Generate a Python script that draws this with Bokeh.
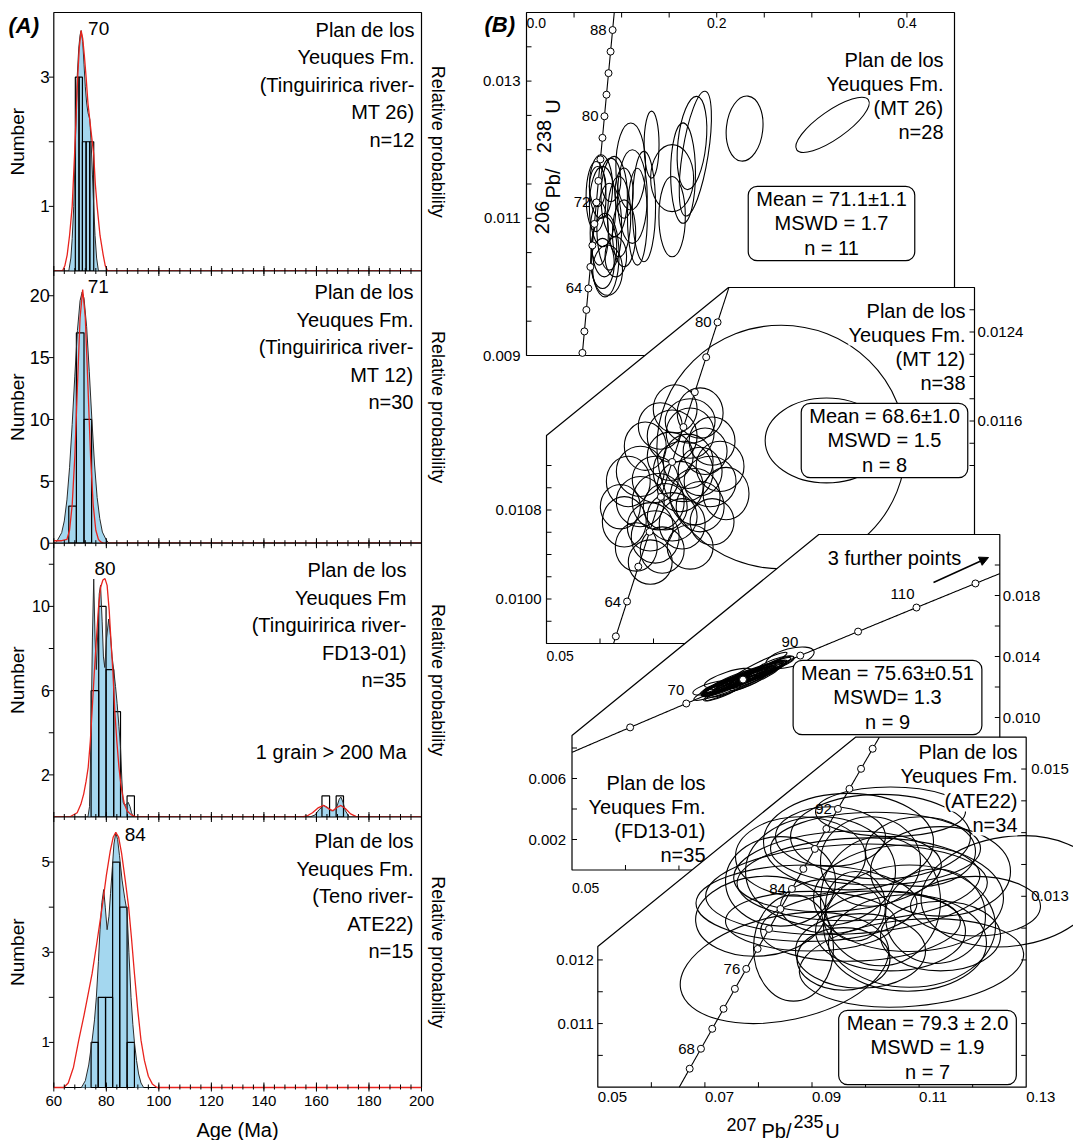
import math
import numpy as np
from bokeh.plotting import figure
from bokeh.models import Range1d, Arrow, NormalHead
from bokeh.core.properties import value
from bokeh.embed import file_html
from bokeh.resources import INLINE

FONT = "Liberation Sans"
BLUE = "#a4d7ef"
RED = "#e8231d"
PDP_LINE = "#2b2b2b"

# ---------------------------------------------------------------- (A) age histograms
AGE_MAJOR = [60, 80, 100, 120, 140, 160, 180, 200]
AGE_MINOR = list(range(64, 200, 4))

# MT 26
mt26_bin_left = [68.2, 69.6, 70.9, 72.3, 73.7]
mt26_bin_right = [69.6, 70.9, 72.3, 73.7, 75.2]
mt26_counts = [3, 3, 2, 2, 2]
mt26_pdp_age = [65.7, 66.5, 67.0, 67.6, 68.1, 68.9, 69.5, 70.0, 70.4, 71.0, 71.5, 72.0,
                72.5, 73.0, 73.7, 74.2, 74.7, 75.2, 75.7, 76.3, 77.0]
mt26_pdp_val = [0.0, 0.2, 0.5, 1.0, 1.8, 3.0, 3.45, 3.65, 3.72, 3.55, 3.2, 2.85,
                2.6, 2.45, 2.35, 2.0, 1.5, 1.0, 0.55, 0.2, 0.0]
mt26_kde_age = [60.0, 63.3, 64.2, 65.1, 66.0, 67.0, 67.9, 68.5, 69.1, 69.7, 70.4, 71.0,
                71.6, 72.3, 73.0, 73.8, 74.5, 75.2, 75.8, 76.5, 77.6, 78.8, 79.6, 80.5, 200.0]
mt26_kde_val = [0.0, 0.0, 0.08, 0.25, 0.55, 1.0, 1.8, 2.4, 3.0, 3.45, 3.72, 3.6,
                3.35, 3.0, 2.6, 2.3, 2.05, 1.8, 1.35, 1.0, 0.55, 0.25, 0.08, 0.0, 0.0]

# MT 12
mt12_bin_left = [65.7, 68.6, 71.5]
mt12_bin_right = [68.6, 71.5, 74.4]
mt12_counts = [3, 17, 10]
mt12_pdp_age = [61.0, 63.0, 64.0, 65.0, 66.0, 67.0, 68.0, 69.0, 70.0, 70.8, 71.5, 72.5,
                73.5, 74.5, 75.5, 76.5, 77.5, 78.5, 80.0, 81.0]
mt12_pdp_val = [0.1, 0.85, 1.8, 3.5, 6.1, 9.6, 13.5, 17.2, 19.6, 20.3, 19.8, 17.5,
                13.9, 10.0, 6.4, 3.7, 2.0, 0.9, 0.25, 0.0]
mt12_kde_age = [60.0, 63.0, 65.0, 66.0, 67.0, 68.0, 69.0, 70.0, 71.0, 72.0, 73.0, 74.0,
                75.0, 76.0, 77.0, 78.0, 79.0, 200.0]
mt12_kde_val = [0.2, 0.2, 0.3, 1.05, 3.1, 7.0, 12.7, 18.2, 20.5, 18.2, 12.7, 7.0,
                3.1, 1.05, 0.3, 0.08, 0.0, 0.0]

# FD13-01
fd13_bin_left = [74.2, 77.1, 79.9, 82.8, 87.9, 162.1, 167.5]
fd13_bin_right = [77.1, 79.9, 82.8, 85.4, 90.7, 165.0, 170.3]
fd13_counts = [6, 10, 7, 5, 1, 1, 1]
fd13_pdp_age = [73.0, 73.6, 74.2, 74.7, 75.2, 75.7, 76.2, 76.8, 77.3, 77.8, 78.4, 78.9,
                79.4, 80.1, 80.9, 81.6, 82.2, 82.8, 83.5, 84.1, 84.8, 85.4, 85.9, 86.4,
                87.0, 87.6, 88.3, 89.0, 89.6, 90.3, 157.5, 159.5, 161.0, 162.8, 164.3,
                165.6, 166.6, 167.8, 168.7, 169.3, 170.1, 171.0, 172.5]
fd13_pdp_val = [0.0, 0.5, 4.0, 8.5, 11.3, 8.5, 7.0, 9.0, 10.6, 11.0, 9.3, 7.6,
                7.1, 8.5, 9.4, 8.6, 7.6, 7.0, 6.2, 5.4, 4.3, 3.3, 1.8, 0.7,
                0.55, 0.6, 0.7, 0.5, 0.2, 0.0, 0.0, 0.1, 0.35, 0.55, 0.45,
                0.3, 0.3, 0.5, 0.85, 0.95, 0.7, 0.3, 0.0]
fd13_kde_age = [60.0, 66.0, 68.9, 70.3, 71.4, 72.3, 73.1, 73.9, 74.6, 75.4, 76.2, 77.0,
                77.8, 78.7, 79.5, 80.3, 81.1, 81.8, 82.5, 83.2, 84.0, 84.8, 85.5, 86.1,
                86.9, 87.9, 89.5, 91.5, 154.5, 156.4, 158.5, 160.8, 162.8, 164.5, 166.2,
                167.8, 169.3, 171.0, 173.0, 175.0, 176.5, 200.0]
fd13_kde_val = [0.0, 0.0, 0.2, 0.6, 1.1, 1.7, 2.36, 3.6, 5.07, 6.8, 8.4, 9.9,
                10.9, 11.25, 11.32, 11.0, 9.8, 8.3, 6.9, 5.07, 3.6, 2.36, 1.6, 1.1,
                0.6, 0.3, 0.1, 0.0, 0.0, 0.05, 0.2, 0.45, 0.55, 0.4, 0.3,
                0.45, 0.55, 0.4, 0.15, 0.03, 0.0, 0.0]

# ATE22
ate22_bin_left = [74.2, 76.9, 79.7, 82.4, 85.1, 87.9]
ate22_bin_right = [76.9, 79.7, 82.4, 85.1, 87.9, 90.7]
ate22_counts = [1, 2, 2, 5, 4, 1]
ate22_pdp_age = [70.5, 72.0, 73.3, 74.6, 75.5, 76.2, 77.0, 77.6, 78.3, 79.0, 79.6, 80.3,
                 81.0, 81.6, 82.2, 82.9, 83.6, 84.3, 85.0, 86.0, 87.0, 87.9, 88.6, 89.4,
                 90.1, 90.7, 91.5, 92.3, 93.2, 94.2]
ate22_pdp_val = [0.0, 0.15, 0.5, 1.05, 1.5, 2.0, 2.8, 3.5, 4.1, 4.39, 4.0, 3.5,
                 3.8, 4.3, 4.8, 5.4, 5.65, 5.5, 5.15, 4.6, 4.2, 3.9, 3.0, 2.0,
                 1.4, 1.0, 0.6, 0.3, 0.1, 0.0]
ate22_kde_age = [60.0, 63.8, 65.5, 67.5, 69.5, 71.5, 73.0, 74.6, 76.5, 78.4, 80.0, 81.5,
                 82.6, 83.6, 84.7, 85.8, 87.2, 88.5, 89.6, 90.7, 92.0, 93.2, 94.5, 96.0,
                 97.5, 99.3, 200.0]
ate22_kde_val = [0.0, 0.0, 0.1, 0.45, 1.05, 1.6, 2.05, 2.53, 3.25, 4.0, 4.7, 5.25,
                 5.55, 5.66, 5.55, 5.2, 4.6, 4.0, 3.3, 2.53, 1.7, 1.05, 0.6, 0.25,
                 0.08, 0.0, 0.0]

# ---------------------------------------------------------------- (B) concordia diagrams
LAM238 = 1.55125e-10
LAM235 = 9.8485e-10

# MT 26 ellipses: 207Pb/235U, 206Pb/238U, 2-sigma extents, rotation (deg)
mt26_x = [0.0731, 0.0783, 0.0800, 0.0765, 0.0818, 0.0800, 0.0853, 0.0825, 0.0870, 0.0922,
          0.0974, 0.1026, 0.1096, 0.1113, 0.1166, 0.1235, 0.1315, 0.1531, 0.1531, 0.1646,
          0.1775, 0.1740, 0.2293, 0.3218, 0.0748, 0.0939, 0.0887, 0.1026]
mt26_y = [0.011317, 0.011463, 0.011171, 0.010781, 0.010585, 0.010342, 0.010244, 0.010464,
          0.010878, 0.011317, 0.011024, 0.010781, 0.011756, 0.011317, 0.011024, 0.011171,
          0.012074, 0.011586, 0.011024, 0.011660, 0.011942, 0.012098, 0.012308, 0.012362,
          0.011463, 0.010439, 0.011561, 0.011367]
mt26_w = [0.0209, 0.0244, 0.0278, 0.0191, 0.0261, 0.0244, 0.0313, 0.0296, 0.0261, 0.0278,
          0.0244, 0.0244, 0.0313, 0.0313, 0.0209, 0.0244, 0.0157, 0.0452, 0.0278, 0.0261,
          0.0271, 0.0296, 0.0383, 0.0919, 0.0174, 0.0226, 0.0209, 0.0191]
mt26_h = [0.001024, 0.000927, 0.001171, 0.000927, 0.000878, 0.000732, 0.000732, 0.001220,
          0.001268, 0.001171, 0.001171, 0.000976, 0.001268, 0.001366, 0.001415, 0.001610,
          0.000976, 0.000976, 0.001171, 0.001463, 0.001844, 0.001366, 0.000951, 0.000410,
          0.000585, 0.000585, 0.000634, 0.000732]
mt26_a = [0, 0, 0, 0, 0, 0, 0, 0, 0, 0, 0, 0, 0, 0, 0, 0, 0, 0, 0, 0,
          -9, -6, -6, 35, 0, 0, 0, 0]

# MT 12 ellipses
mt12_x = [0.09388, 0.10234, 0.07405, 0.07872, 0.07126, 0.08095, 0.07685, 0.06846, 0.07312,
          0.08244, 0.07872, 0.06529, 0.07032, 0.07499, 0.08356, 0.06753, 0.07219, 0.07872,
          0.06454, 0.06939, 0.07536, 0.08095, 0.06678, 0.07163, 0.07685, 0.06939, 0.07349,
          0.07648, 0.07088, 0.07778, 0.08058, 0.06753, 0.07349, 0.06380, 0.07965, 0.07032,
          0.07555, 0.07685]
mt12_y = [0.011366, 0.011425, 0.011709, 0.011672, 0.011555, 0.011419, 0.011491, 0.011374,
          0.011283, 0.011192, 0.011147, 0.011056, 0.011075, 0.011011, 0.010948, 0.010875,
          0.010830, 0.010830, 0.010694, 0.010649, 0.010676, 0.010694, 0.010468, 0.010440,
          0.010468, 0.010332, 0.011464, 0.011238, 0.010875, 0.010920, 0.011056, 0.011147,
          0.010739, 0.010830, 0.011328, 0.010558, 0.011147, 0.011600]
mt12_w = [0.04649, 0.02294, 0.00820, 0.00858, 0.00820, 0.00858, 0.00895, 0.00783, 0.00858,
          0.00895, 0.00820, 0.00820, 0.00858, 0.00858, 0.00858, 0.00895, 0.00820, 0.00895,
          0.00820, 0.00858, 0.00858, 0.00820, 0.00783, 0.00820, 0.00858, 0.00820, 0.00932,
          0.00932, 0.00970, 0.00932, 0.00970, 0.00895, 0.00932, 0.00746, 0.00820, 0.00895,
          0.01119, 0.00932]
mt12_h = [0.002190, 0.000763, 0.000435, 0.000453, 0.000417, 0.000435, 0.000453, 0.000435,
          0.000435, 0.000453, 0.000435, 0.000453, 0.000417, 0.000453, 0.000471, 0.000453,
          0.000417, 0.000453, 0.000453, 0.000435, 0.000453, 0.000417, 0.000435, 0.000417,
          0.000399, 0.000399, 0.000471, 0.000489, 0.000507, 0.000507, 0.000453, 0.000453,
          0.000435, 0.000399, 0.000417, 0.000471, 0.000544, 0.000399]
mt12_a = [0.0] * len(mt12_x)

# FD13-01 ellipses
fd13_x = [0.08050, 0.08106, 0.07957, 0.08181, 0.08237, 0.07864, 0.08330, 0.08013, 0.08424,
          0.08517, 0.07771, 0.08610, 0.08703, 0.09076, 0.08797, 0.07677, 0.08144, 0.07920,
          0.08293, 0.08517, 0.07808, 0.08890, 0.08088, 0.08368, 0.07621, 0.08150, 0.08000,
          0.08300, 0.07900, 0.08450, 0.07750, 0.08600, 0.08200, 0.08050, 0.08350]
fd13_y = [0.012336, 0.012467, 0.012204, 0.012533, 0.012664, 0.012072, 0.012730, 0.012270,
          0.012862, 0.013059, 0.011941, 0.013125, 0.013322, 0.013914, 0.013520, 0.011809,
          0.012401, 0.012599, 0.012336, 0.013388, 0.011612, 0.013586, 0.012072, 0.012533,
          0.011941, 0.012400, 0.012500, 0.012600, 0.012200, 0.012800, 0.012100, 0.013000,
          0.012300, 0.012400, 0.012700]
fd13_w = [0.01306, 0.01493, 0.01119, 0.01026, 0.01679, 0.00933, 0.01306, 0.00746, 0.01119,
          0.00933, 0.00746, 0.00840, 0.00840, 0.00933, 0.00746, 0.00560, 0.01866, 0.00933,
          0.00746, 0.01119, 0.00746, 0.00560, 0.01306, 0.00933, 0.00746, 0.01120, 0.00930,
          0.01020, 0.00840, 0.00840, 0.00650, 0.00750, 0.01400, 0.01210, 0.00930]
fd13_h = [0.000592, 0.000526, 0.000658, 0.000461, 0.000658, 0.000526, 0.000526, 0.000395,
          0.000592, 0.000526, 0.000461, 0.000526, 0.000461, 0.001184, 0.000592, 0.000395,
          0.000789, 0.000789, 0.000526, 0.000526, 0.000461, 0.000526, 0.000461, 0.000395,
          0.000658, 0.000530, 0.000460, 0.000530, 0.000460, 0.000530, 0.000400, 0.000460,
          0.000660, 0.000590, 0.000460]
fd13_a = [22, 20, 23, 22, 21, 24, 22, 22, 20, 21, 22, 22, 23, 15, 20, 22, 22, 18, 24, 26,
          22, 20, 24, 22, 15, 21, 23, 22, 22, 21, 22, 22, 22, 20, 23]

# ATE22 ellipses
ate22_x = [0.08486, 0.10858, 0.08897, 0.09644, 0.09682, 0.09476, 0.10186, 0.09868, 0.10802,
           0.10821, 0.10783, 0.08655, 0.09588, 0.12707, 0.09159, 0.10279, 0.09906, 0.08412,
           0.11400, 0.09345, 0.10466, 0.08038, 0.10092, 0.11400, 0.08972, 0.10466, 0.09812,
           0.11026, 0.12053, 0.08785, 0.10279, 0.09345, 0.11306, 0.09906]
ate22_y = [0.011875, 0.011953, 0.012891, 0.013109, 0.013859, 0.013391, 0.013750, 0.013266,
           0.012969, 0.012531, 0.012266, 0.012187, 0.012016, 0.013078, 0.013391, 0.012922,
           0.012531, 0.013234, 0.013391, 0.013938, 0.012453, 0.012687, 0.013547, 0.012375,
           0.012609, 0.014328, 0.012844, 0.013703, 0.012844, 0.013625, 0.013938, 0.012844,
           0.012687, 0.012141]
ate22_w = [0.03959, 0.04202, 0.04127, 0.05266, 0.03175, 0.03884, 0.03922, 0.04538, 0.03548,
           0.03212, 0.02951, 0.01494, 0.01737, 0.03361, 0.02801, 0.02241, 0.03735, 0.02054,
           0.02614, 0.02054, 0.02801, 0.02428, 0.01867, 0.02241, 0.03175, 0.02801, 0.01120,
           0.02054, 0.02428, 0.02428, 0.03361, 0.01867, 0.01867, 0.02428]
ate22_h = [0.001640, 0.001360, 0.001200, 0.001406, 0.001516, 0.001250, 0.001141, 0.001297,
           0.001672, 0.001922, 0.001516, 0.001672, 0.000984, 0.001719, 0.001719, 0.002031,
           0.001094, 0.001406, 0.001406, 0.000938, 0.001250, 0.001250, 0.001406, 0.001094,
           0.000938, 0.000781, 0.001094, 0.001094, 0.000938, 0.001250, 0.001328, 0.000859,
           0.001484, 0.001172]
ate22_a = [12, 5, 0, 3, 0, 4, 0, 2, 0, 0, 0, 0, 0, 8, 0, 0, 3, 0, 0, 0,
           0, 5, 0, 0, 0, 0, 0, 0, 0, 0, 0, 0, 0, 0]

# concordia marker ages (Ma) and the ones that carry a label
mt26_marks = [58, 60, 62, 64, 66, 68, 70, 72, 74, 76, 78, 80, 82, 84, 86, 88]
mt26_marks_lab = [64, 72, 80, 88]
mt12_marks = [62, 64, 66, 68, 70, 72, 74, 76, 78, 80]
mt12_marks_lab = [64, 80]
fd13_marks = [60, 70, 80, 90, 100, 110, 120]
fd13_marks_lab = [70, 90, 110]
ate22_marks = [66, 68, 70, 72, 74, 76, 78, 80, 82, 84, 86, 88, 90, 92, 94, 96, 98]
ate22_marks_lab = [68, 76, 84, 92]


def rect_outline(L, R, T, B):
    return [(L, B), (R, B), (R, T), (L, T)]


# page placement of every sub-plot: (left, right, top, bottom) px, data ranges, outline
PANELS = {
    "h1": dict(box=(53.3, 421, 12, 270.5), xr=(60, 200), yr=(0, 4)),
    "h2": dict(box=(53.3, 421, 270.5, 542.7), xr=(60, 200), yr=(0, 22)),
    "h3": dict(box=(53.3, 421, 542.7, 816.5), xr=(60, 200), yr=(0, 13)),
    "h4": dict(box=(53.3, 421, 816.5, 1087), xr=(60, 200), yr=(0, 6)),
    "mt26": dict(box=(526, 954, 12, 355), xr=(0.0, 0.45), yr=(0.009, 0.014)),
    "mt12": dict(box=(546, 974, 287, 643), xr=(0.05, 0.13), yr=(0.0096, 0.0128),
                 outline=[(546, 643), (974, 643), (974, 287), (728, 287), (546, 435)]),
    "fd13": dict(box=(571.5, 999.3, 534, 869.5), xr=(0.05, 0.13), yr=(0.0, 0.022),
                 outline=[(571.5, 869.5), (999.3, 869.5), (999.3, 534), (818.3, 534), (571.5, 735)]),
    "ate22": dict(box=(597.3, 1025.7, 736.7, 1086.7), xr=(0.05, 0.13), yr=(0.010, 0.0155),
                  outline=[(597.3, 1086.7), (1025.7, 1086.7), (1025.7, 736.7), (855, 736.7), (597.3, 946)]),
}
PW, PH = 1073, 1140

p = figure(width=PW, height=PH, x_range=Range1d(0, PW), y_range=Range1d(PH, 0),
           x_axis_type=None, y_axis_type=None, min_border=0,
           output_backend="svg", toolbar_location=None)
p.outline_line_color = None
p.background_fill_color = "white"
p.border_fill_color = "white"

xr_named, yr_named = {}, {}
for name, P in PANELS.items():
    L, R, T, B = P["box"]
    (x0, x1), (y0, y1) = P["xr"], P["yr"]
    dx = (x1 - x0) / (R - L)
    dy = (y1 - y0) / (B - T)
    xr_named[name] = Range1d(x0 - L * dx, x0 + (PW - L) * dx)
    yr_named[name] = Range1d(y0 - (PH - B) * dy, y0 + B * dy)
    P.setdefault("outline", rect_outline(L, R, T, B))
p.extra_x_ranges = xr_named
p.extra_y_ranges = yr_named


def on(name):
    return dict(x_range_name=name, y_range_name=name)


def draw_frame(name):
    xs, ys = zip(*PANELS[name]["outline"])
    p.patch(list(xs), list(ys), fill_color="white", line_color="black", line_width=1.2)


def draw_ticks(name, side, vals, length=5):
    """Tick marks on a sub-plot edge; positive length points inward."""
    P = PANELS[name]
    L, R, T, B = P["box"]
    (x0, x1), (y0, y1) = P["xr"], P["yr"]
    kx, ky = (x1 - x0) / (R - L), (y1 - y0) / (B - T)
    n = len(vals)
    if side == "left":
        a, b, c, d = [x0] * n, vals, [x0 + length * kx] * n, vals
    elif side == "right":
        a, b, c, d = [x1] * n, vals, [x1 - length * kx] * n, vals
    elif side == "top":
        a, b, c, d = vals, [y1] * n, vals, [y1 - length * ky] * n
    else:
        a, b, c, d = vals, [y0] * n, vals, [y0 + length * ky] * n
    p.segment(x0=a, y0=b, x1=c, y1=d, line_color="black", line_width=1, **on(name))


def draw_tick_labels(name, side, vals, texts, offset=5, align=None, size="15px"):
    (x0, x1), (y0, y1) = PANELS[name]["xr"], PANELS[name]["yr"]
    n = len(vals)
    kw = dict(text_font=value(FONT), text_font_size=size, text_color="black", **on(name))
    if side == "left":
        p.text(x=[x0] * n, y=vals, text=texts, x_offset=[-offset] * n,
               text_align="right", text_baseline="middle", **kw)
    elif side == "right":
        p.text(x=[x1] * n, y=vals, text=texts, x_offset=[offset] * n,
               text_align="left", text_baseline="middle", **kw)
    elif side == "top":
        p.text(x=vals, y=[y1] * n, text=texts, y_offset=[offset] * n,
               text_align=align or "center", text_baseline="top", **kw)
    else:
        p.text(x=vals, y=[y0] * n, text=texts, y_offset=[offset] * n,
               text_align=align or "left", text_baseline="top", **kw)


def page_text(x, y, txt, size="20px", align="center", baseline="middle", angle=0.0,
              style="normal", bg=None):
    p.text(x=[x], y=[y], text=[txt], angle=angle, text_align=align, text_baseline=baseline,
           text_font=value(FONT), text_font_size=size, text_font_style=style,
           text_color="black", background_fill_color=bg)


# ---------------------------------------------------------------- draw (A)
def hist_panel(name, bl, br, counts, pdp_a, pdp_v, kde_a, kde_v, yt, ymt, yfont,
               peak_txt, peak_dx, peak_dy, peak_align, title, title_dx, title_dy,
               note=None, top_ticks=True, age_labels=False):
    P = PANELS[name]
    L, R, T, B = P["box"]
    ymax = P["yr"][1]
    draw_frame(name)
    kw = on(name)
    p.varea(x=pdp_a, y1=[0] * len(pdp_a), y2=pdp_v, fill_color=BLUE, **kw)
    p.quad(left=bl, right=br, bottom=[0] * len(bl), top=counts,
           fill_color=None, line_color="black", line_width=1.2, **kw)
    p.line(pdp_a, pdp_v, line_color=PDP_LINE, line_width=1, **kw)
    p.line(kde_a, kde_v, line_color=RED, line_width=1.3, **kw)

    k = int(np.argmax(kde_v))
    p.text(x=[kde_a[k]], y=[kde_v[k]], text=[peak_txt], x_offset=[peak_dx], y_offset=[peak_dy],
           text_align=peak_align, text_baseline="bottom",
           text_font=value(FONT), text_font_size="19px", text_color="black", **kw)
    p.text(x=[200], y=[ymax], text=[title], x_offset=[title_dx], y_offset=[title_dy],
           text_align="right", text_baseline="top", text_line_height=1.25,
           text_font=value(FONT), text_font_size="20px", text_color="black", **kw)
    if note:
        p.text(x=[200], y=[ymax], text=[note[0]], x_offset=[title_dx], y_offset=[note[1]],
               text_align="right", text_baseline="middle",
               text_font=value(FONT), text_font_size="20px", text_color="black", **kw)

    # count axis (outward ticks) and age ticks on the frame edges
    draw_ticks(name, "left", yt + ymt, length=-5)
    draw_tick_labels(name, "left", yt, [str(v) for v in yt], offset=4, size=yfont)
    draw_ticks(name, "bottom", AGE_MAJOR, 5)
    draw_ticks(name, "bottom", AGE_MINOR, 3)
    if top_ticks:
        draw_ticks(name, "top", AGE_MAJOR, 5)
        draw_ticks(name, "top", AGE_MINOR, 3)
    if age_labels:
        draw_ticks(name, "bottom", AGE_MAJOR, -4)
        draw_ticks(name, "bottom", AGE_MINOR, -2)
        draw_tick_labels(name, "bottom", AGE_MAJOR, [str(v) for v in AGE_MAJOR],
                         offset=8, align="center", size="15px")
    mid = (T + B) / 2
    page_text(17, mid, "Number", size="19px", angle=math.pi / 2)
    page_text(437, mid, "Relative probability", size="18px", angle=-math.pi / 2)


hist_panel("h1", mt26_bin_left, mt26_bin_right, mt26_counts, mt26_pdp_age, mt26_pdp_val,
           mt26_kde_age, mt26_kde_val, [1, 3], [2], "17px",
           "70", 7, 4, "left",
           "Plan de los\nYeuques Fm.\n(Tinguiririca river-\nMT 26)\nn=12", -7, 6, top_ticks=False)
hist_panel("h2", mt12_bin_left, mt12_bin_right, mt12_counts, mt12_pdp_age, mt12_pdp_val,
           mt12_kde_age, mt12_kde_val, [0, 5, 10, 15, 20], [], "18px",
           "71", 5, 3, "left",
           "Plan de los\nYeuques Fm.\n(Tinguiririca river-\nMT 12)\nn=30", -8, 10)
hist_panel("h3", fd13_bin_left, fd13_bin_right, fd13_counts, fd13_pdp_age, fd13_pdp_val,
           fd13_kde_age, fd13_kde_val, [2, 6, 10], [4, 8, 12], "16px",
           "80", 0, -4, "center",
           "Plan de los\nYeuques Fm\n(Tinguiririca river-\nFD13-01)\nn=35", -15, 16,
           note=("1 grain > 200 Ma", 209))
hist_panel("h4", ate22_bin_left, ate22_bin_right, ate22_counts, ate22_pdp_age, ate22_pdp_val,
           ate22_kde_age, ate22_kde_val, [1, 3, 5], [2, 4], "15px",
           "84", 9, 9, "left",
           "Plan de los\nYeuques Fm.\n(Teno river-\nATE22)\nn=15", -8, 13, age_labels=True)
page_text(237, 1129, "Age (Ma)", size="20px")
page_text(8, 12, "(A)", size="22px", align="left", baseline="top", style="bold italic")


# ---------------------------------------------------------------- draw (B)
def concordia_xy(ages):
    t = np.asarray(ages, dtype=float) * 1e6
    return np.expm1(LAM235 * t), np.expm1(LAM238 * t)


def age_span(name):
    (x0, x1), (y0, y1) = PANELS[name]["xr"], PANELS[name]["yr"]
    lo = max(np.log1p(x0) / LAM235, np.log1p(y0) / LAM238) / 1e6
    hi = min(np.log1p(x1) / LAM235, np.log1p(y1) / LAM238) / 1e6
    return lo, hi


def draw_diagram(name, ex, ey, ew, eh, ea, marks, marks_lab, lab_dx, lab_dy, lab_align):
    draw_frame(name)
    kw = on(name)
    p.ellipse(x=ex, y=ey, width=ew, height=eh, angle=list(np.radians(ea)),
              fill_color=None, line_color="black", line_width=1.1, **kw)
    lo, hi = age_span(name)
    cx, cy = concordia_xy(np.linspace(lo, hi, 300))
    p.line(cx, cy, line_color="black", line_width=1.1, **kw)
    mx, my = concordia_xy(marks)
    p.scatter(mx, my, size=7, marker="circle", fill_color="white", line_color="black",
              line_width=1, **kw)
    lx, ly = concordia_xy(marks_lab)
    n = len(marks_lab)
    p.text(x=lx, y=ly, text=[str(a) for a in marks_lab], x_offset=[lab_dx] * n,
           y_offset=[lab_dy] * n, text_align=lab_align, text_baseline="middle",
           text_font=value(FONT), text_font_size="15px", text_color="black", **kw)


def panel_title(lines, right, ys):
    p.text(x=[right] * len(lines), y=ys, text=lines, text_align="right", text_baseline="middle",
           text_font=value(FONT), text_font_size="20px", text_color="black",
           background_fill_color="white")


def mean_box(cx, cy, lines):
    p.text(x=[cx], y=[cy], text=["\n".join(lines)], text_align="center", text_baseline="middle",
           text_font=value(FONT), text_font_size="20px", text_color="black",
           text_line_height=1.1, background_fill_color="white",
           border_line_color="black", border_line_width=1.2,
           padding=dict(x=8, y=2), border_radius=9)


# --- MT 26
draw_diagram("mt26", mt26_x, mt26_y, mt26_w, mt26_h, mt26_a, mt26_marks, mt26_marks_lab,
             -6, 0, "right")
draw_ticks("mt26", "top", [0.05, 0.10, 0.15, 0.20, 0.25, 0.30, 0.35, 0.40])
draw_ticks("mt26", "left", [0.0095, 0.0100, 0.0105, 0.0110, 0.0115, 0.0120, 0.0125, 0.0130, 0.0135])
draw_tick_labels("mt26", "top", [0.0], ["0.0"], offset=5, align="left", size="14px")
draw_tick_labels("mt26", "top", [0.2, 0.4], ["0.2", "0.4"], offset=5, size="14px")
draw_tick_labels("mt26", "left", [0.009, 0.011, 0.013], ["0.009", "0.011", "0.013"], offset=6)
panel_title(["Plan de los", "Yeuques Fm.", "(MT 26)", "n=28"], 943, [59, 83, 107, 131])
mean_box(831, 223, ["Mean = 71.1\u00b11.1", "MSWD = 1.7", "n = 11"])
for txt, xx, yy in [("206", 541.5, 217), ("Pb/", 552, 183), ("238", 543.5, 136), ("U", 552.5, 106)]:
    page_text(xx, yy, txt, size="20px", angle=math.pi / 2)
page_text(484, 11, "(B)", size="22px", align="left", baseline="top", style="bold italic")

# --- MT 12
draw_diagram("mt12", mt12_x, mt12_y, mt12_w, mt12_h, mt12_a, mt12_marks, mt12_marks_lab,
             -6, 0, "right")
draw_ticks("mt12", "right", [0.0112, 0.0114, 0.0116, 0.0118, 0.0120, 0.0122, 0.0124, 0.0126])
draw_ticks("mt12", "left", [0.0098, 0.0100, 0.0102, 0.0104, 0.0106, 0.0108, 0.0110, 0.0112])
draw_ticks("mt12", "bottom", [0.06, 0.07, 0.08])
draw_tick_labels("mt12", "right", [0.0124, 0.0116], ["0.0124", "0.0116"], offset=3)
draw_tick_labels("mt12", "left", [0.0108, 0.0100], ["0.0108", "0.0100"], offset=5)
draw_tick_labels("mt12", "bottom", [0.05], ["0.05"], offset=7, size="14px")
panel_title(["Plan de los", "Yeuques Fm.", "(MT 12)", "n=38"], 965, [310, 334, 358, 382])
mean_box(884, 440, ["Mean = 68.6\u00b11.0", "MSWD = 1.5", "n = 8"])

# --- FD13-01
draw_diagram("fd13", fd13_x, fd13_y, fd13_w, fd13_h, fd13_a, fd13_marks, fd13_marks_lab,
             -2, -14, "right")
draw_ticks("fd13", "right", [0.010, 0.012, 0.014, 0.016, 0.018, 0.020])
draw_ticks("fd13", "left", [0.002, 0.004, 0.006, 0.008])
draw_ticks("fd13", "bottom", [0.06, 0.07])
draw_tick_labels("fd13", "right", [0.010, 0.014, 0.018], ["0.010", "0.014", "0.018"], offset=3)
draw_tick_labels("fd13", "left", [0.002, 0.006], ["0.002", "0.006"], offset=6)
draw_tick_labels("fd13", "bottom", [0.05], ["0.05"], offset=13, size="14px")
panel_title(["Plan de los", "Yeuques Fm.", "(FD13-01)", "n=35"], 705, [782, 806, 830, 854])
mean_box(887, 697, ["Mean = 75.63\u00b10.51", "MSWD= 1.3", "n = 9"])
page_text(894, 557, "3 further points", size="20px")
p.add_layout(Arrow(end=NormalHead(size=9, fill_color="black", line_color="black"),
                   x_start=933, y_start=582, x_end=988, y_end=557,
                   line_color="black", line_width=1.5))

# --- ATE22
draw_diagram("ate22", ate22_x, ate22_y, ate22_w, ate22_h, ate22_a, ate22_marks, ate22_marks_lab,
             -6, 0, "right")
draw_ticks("ate22", "bottom", [0.06, 0.07, 0.08, 0.09, 0.10, 0.11, 0.12])
draw_ticks("ate22", "right", [0.0105, 0.0110, 0.0115, 0.0120, 0.0125, 0.0130, 0.0135, 0.0140,
                              0.0145, 0.0150])
draw_ticks("ate22", "left", [0.0105, 0.0110, 0.0115, 0.0120])
draw_tick_labels("ate22", "bottom", [0.05, 0.07, 0.09, 0.11, 0.13],
                 ["0.05", "0.07", "0.09", "0.11", "0.13"], offset=5, size="15px")
draw_tick_labels("ate22", "right", [0.015, 0.013], ["0.015", "0.013"], offset=5)
draw_tick_labels("ate22", "left", [0.012, 0.011], ["0.012", "0.011"], offset=4)
panel_title(["Plan de los", "Yeuques Fm.", "(ATE22)", "n=34"], 1017, [751, 775, 800, 824])
mean_box(927, 1047, ["Mean = 79.3 \u00b1 2.0", "MSWD = 1.9", "n = 7"])
for txt, xx, yy, sz in [("207", 741, 1124, "18px"), ("Pb/", 776, 1130, "20px"),
                        ("235", 808, 1121, "18px"), ("U", 832, 1130, "20px")]:
    page_text(xx, yy, txt, size=sz)

open("out.html", "w").write(file_html(p, INLINE))
